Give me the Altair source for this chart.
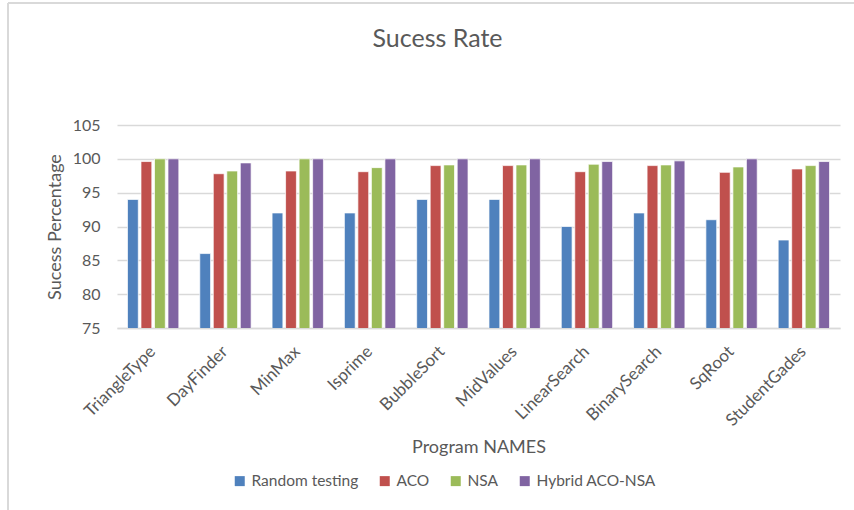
import altair as alt
import pandas as pd

programs = ["TriangleType", "DayFinder", "MinMax", "Isprime", "BubbleSort",
            "MidValues", "LinearSearch", "BinarySearch", "SqRoot", "StudentGades"]
series = ["Random testing", "ACO", "NSA", "Hybrid ACO-NSA"]
random_testing = [94, 86, 92, 92, 94, 94, 90, 92, 91, 88]
aco = [99.6, 97.8, 98.2, 98.1, 99.0, 99.0, 98.1, 99.0, 98.0, 98.5]
nsa = [100, 98.2, 100, 98.7, 99.1, 99.1, 99.2, 99.1, 98.8, 99.0]
hybrid = [100, 99.4, 100, 100, 100, 100, 99.6, 99.7, 100, 99.6]
colors = ["#4F81BD", "#C0504D", "#9BBB59", "#8064A2"]

rows = []
for name, vals in zip(series, [random_testing, aco, nsa, hybrid]):
    for p, v in zip(programs, vals):
        rows.append({"Program": p, "Series": name, "Value": v})
df = pd.DataFrame(rows)

FONT = "Lato"
GRAY = "#595959"

bars = alt.Chart(df).mark_bar(stroke="white", strokeWidth=0.7, clip=True).encode(
    x=alt.X("Program:N", sort=programs,
            scale=alt.Scale(paddingInner=0.29, paddingOuter=0.145),
            axis=alt.Axis(title="Program NAMES", labelAngle=-45, labelFontSize=17,
                          labelColor=GRAY, titleColor=GRAY, titleFontSize=18,
                          titleFontWeight="normal", ticks=False, labelPadding=15,
                          labelOffset=-6,
                          domainColor="#D9D9D9", domainWidth=1.5, titlePadding=10)),
    xOffset=alt.XOffset("Series:N", sort=series, scale=alt.Scale(paddingInner=0.2)),
    y=alt.Y("Value:Q", scale=alt.Scale(domain=[75, 105], zero=False, nice=False),
            axis=alt.Axis(title="Sucess Percentage", values=[75, 80, 85, 90, 95, 100, 105],
                          labelFontSize=16, labelColor=GRAY, titleColor=GRAY,
                          titleFontSize=18, titleFontWeight="normal", ticks=False,
                          domain=False, labelPadding=17, titlePadding=8,
                          gridColor="#D9D9D9", gridWidth=1.5)),
    color=alt.Color("Series:N", sort=series,
                    scale=alt.Scale(domain=series, range=colors),
                    legend=alt.Legend(title=None, orient="none", direction="horizontal",
                                      legendX=115, legendY=348, symbolType="square",
                                      symbolSize=100, symbolStrokeWidth=0,
                                      labelFontSize=15.5, labelColor=GRAY,
                                      columnPadding=18, labelOffset=4)),
)

top_border = alt.Chart(df).mark_rule(color="#D9D9D9", strokeWidth=1.5).encode(
    x=alt.value(-109), x2=alt.value(737), y=alt.value(-122))
left_border = alt.Chart(df).mark_rule(color="#D9D9D9", strokeWidth=1.5).encode(
    x=alt.value(-109), y=alt.value(-122), y2=alt.value(385))

chart = alt.layer(bars, top_border, left_border).properties(
    width=723, height=203,
    title=alt.TitleParams("Sucess Rate", fontSize=25, font=FONT, color=GRAY,
                          fontWeight="normal", offset=-50, dx=-41),
    autosize=alt.AutoSizeParams(type="none"),
    padding={"left": 117, "top": 125, "right": 14, "bottom": 182},
).configure(font=FONT).configure_view(stroke=None)

chart.save("out.html", embed_options={"renderer": "svg", "actions": False})
